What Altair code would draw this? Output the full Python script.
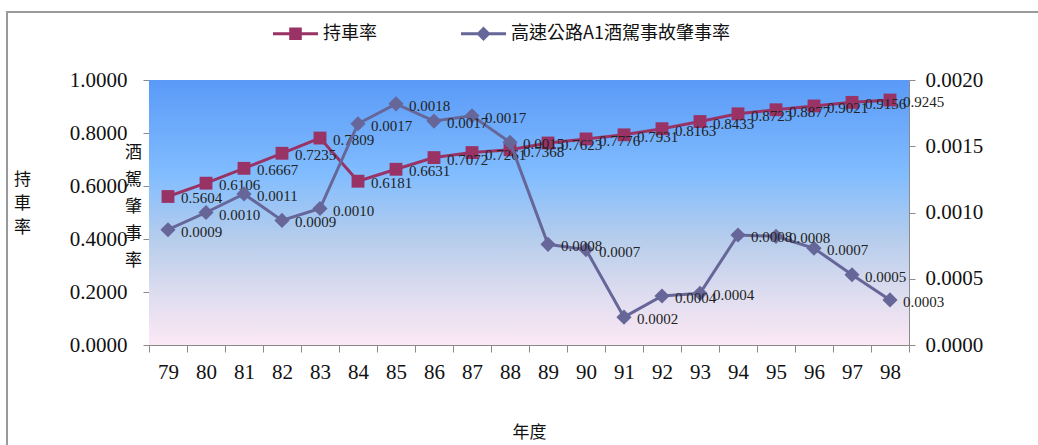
import altair as alt
import pandas as pd

# Fiscal years (ROC calendar)
years = [79, 80, 81, 82, 83, 84, 85, 86, 87, 88,
         89, 90, 91, 92, 93, 94, 95, 96, 97, 98]

# Vehicle ownership rate (left axis)
car_rate = [0.5604, 0.6106, 0.6667, 0.7235, 0.7809, 0.6181, 0.6631, 0.7072, 0.7261, 0.7368,
            0.7623, 0.7776, 0.7931, 0.8163, 0.8433, 0.8723, 0.8877, 0.9021, 0.9156, 0.9245]

# Freeway A1 drunk-driving accident rate (right axis)
dui_rate = [0.00087, 0.00100, 0.00114, 0.00094, 0.00103, 0.00167, 0.00182, 0.00169, 0.00173, 0.00153,
            0.00076, 0.00072, 0.00021, 0.00037, 0.00039, 0.00083, 0.00082, 0.00073, 0.00053, 0.00034]

series_names = ["持車率", "高速公路A1酒駕事故肇事率"]
series_colors = ["#993366", "#666699"]

left_ticks = [0.0, 0.2, 0.4, 0.6, 0.8, 1.0]
right_ticks = [0.0, 0.0005, 0.0010, 0.0015, 0.0020]

W, H = 760, 265
SERIF = "Liberation Serif"
CJK = "Noto Sans CJK TC"
GRID = "#8a8a8a"

df = pd.DataFrame({"year": years, "car": car_rate, "dui": dui_rate})

x_enc = alt.X(
    "year:O",
    scale=alt.Scale(type="band", paddingInner=0, paddingOuter=0),
    axis=alt.Axis(
        title="年度", labelAngle=0, labelFont=SERIF, labelFontSize=21, labelColor="#111",
        labelPadding=9, tickBand="extent", tickSize=7, tickColor=GRID, domainColor=GRID,
        grid=False, titleFont=CJK, titleFontSize=17, titleFontWeight="normal",
        titleColor="#111", titleY=87, titleBaseline="middle",
    ),
)

# plot-area background: blue at the top fading to pale pink
gradient = {
    "gradient": "linear", "x1": 0, "y1": 0, "x2": 0, "y2": 1,
    "stops": [
        {"offset": 0.0, "color": "#5a9af7"},
        {"offset": 0.35, "color": "#80bcff"},
        {"offset": 0.6, "color": "#b6cdec"},
        {"offset": 0.8, "color": "#dcdcef"},
        {"offset": 1.0, "color": "#fce8f5"},
    ],
}
one = pd.DataFrame({"k": [0]})
bg = alt.Chart(one).mark_rect(color=gradient).encode(
    x=alt.value(0), x2=alt.value(W), y=alt.value(0), y2=alt.value(H)
)

# outer chart frame
frame = alt.Chart(one).mark_rect(fillOpacity=0, stroke="#9a9a9a", strokeWidth=2).encode(
    x=alt.value(-142), x2=alt.value(900), y=alt.value(-68), y2=alt.value(380)
)

# ---- left axis series ----
y_left = alt.Y(
    "car:Q",
    scale=alt.Scale(domain=[0, 1], nice=False, zero=True),
    axis=alt.Axis(
        values=left_ticks, format=".4f", grid=True, gridColor=GRID, gridWidth=1,
        domainColor=GRID, tickColor=GRID, tickSize=6, labelPadding=16,
        labelFont=SERIF, labelFontSize=21, labelColor="#111",
        title=["持", "車", "率"], titleAngle=0, titleX=-127, titleY=91,
        titleBaseline="top", titleAlign="center", titleLineHeight=24,
        titleFont=CJK, titleFontSize=17, titleFontWeight="normal", titleColor="#111",
    ),
)
base_l = alt.Chart(df).encode(x=x_enc, y=y_left)
line_l = base_l.mark_line(color=series_colors[0], strokeWidth=3)
pts_l = base_l.mark_point(shape="square", filled=True, opacity=1, size=165, color=series_colors[0])
txt_l = base_l.mark_text(align="left", baseline="middle", dx=13, dy=2, font=SERIF,
                         fontSize=15, color="#222").encode(text=alt.Text("car:Q", format=".4f"))
left = alt.layer(line_l, pts_l, txt_l)

# ---- right axis series ----
y_right = alt.Y(
    "dui:Q",
    scale=alt.Scale(domain=[0, 0.002], nice=False, zero=True),
    axis=alt.Axis(
        orient="right", values=right_ticks, format=".4f", grid=False,
        domainColor=GRID, tickColor=GRID, tickSize=6, labelPadding=10,
        labelFont=SERIF, labelFontSize=21, labelColor="#111",
        title=["酒", "駕", "肇", "事", "率"], titleAngle=0, titleX=-776, titleY=64,
        titleBaseline="top", titleAlign="center", titleLineHeight=27,
        titleFont=CJK, titleFontSize=17, titleFontWeight="normal", titleColor="#111",
    ),
)
base_r = alt.Chart(df).encode(x=x_enc, y=y_right)
line_r = base_r.mark_line(color=series_colors[1], strokeWidth=3)
pts_r = base_r.mark_point(shape="diamond", filled=True, opacity=1, size=230, color=series_colors[1])
txt_r = base_r.mark_text(align="left", baseline="middle", dx=13, dy=2, font=SERIF,
                         fontSize=15, color="#222").encode(text=alt.Text("dui:Q", format=".4f"))
right = alt.layer(line_r, pts_r, txt_r)

# ---- legend: line-with-marker symbols ----
sq_path = "M-1,-0.07H1V0.07H-1Z M-0.28,-0.28H0.28V0.28H-0.28Z"
dm_path = "M-1,-0.07H1V0.07H-1Z M0,-0.32L0.32,0L0,0.32L-0.32,0Z"
leg_df = pd.DataFrame({"series": series_names})
legend = alt.Legend(
    title=None, orient="none", direction="horizontal", legendX=124, legendY=-69,
    padding=0, symbolSize=2025, symbolStrokeWidth=0, symbolOpacity=1,
    labelFont=CJK, labelFontSize=18, labelColor="#111", labelOffset=5, labelLimit=400,
    columnPadding=84,
)
legend_layer = alt.Chart(leg_df).mark_point(filled=True, opacity=0).encode(
    x=alt.value(0), y=alt.value(0),
    color=alt.Color("series:N", scale=alt.Scale(domain=series_names, range=series_colors), legend=legend),
    shape=alt.Shape("series:N", scale=alt.Scale(domain=series_names, range=[sq_path, dm_path]), legend=legend),
)

chart = alt.layer(bg, frame, left, right, legend_layer).resolve_scale(
    y="independent"
).properties(
    width=W, height=H,
    padding={"left": 149, "top": 80, "right": 129, "bottom": 100},
    autosize=alt.AutoSizeParams(type="none"),
    background="white",
).configure_view(strokeWidth=0)

chart.save("out.html", embed_options={"renderer": "svg", "actions": False})
